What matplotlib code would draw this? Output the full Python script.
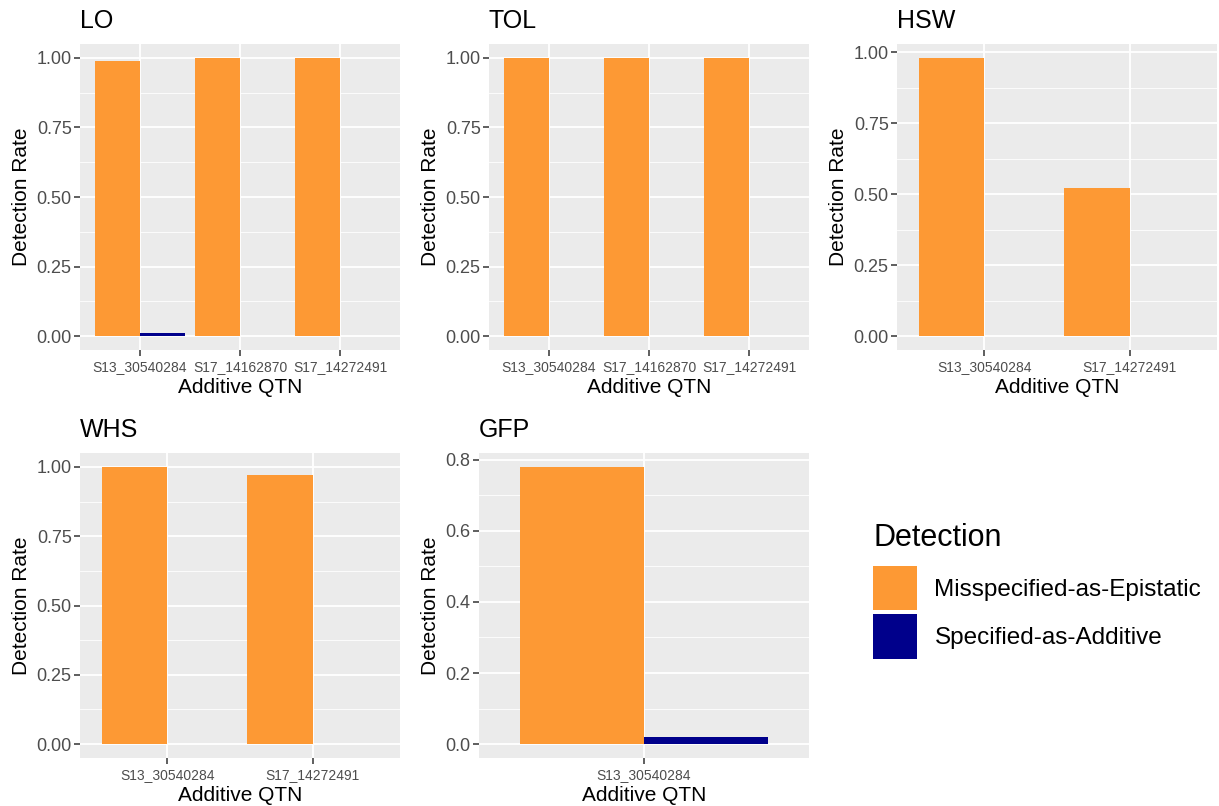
import matplotlib
matplotlib.use("Agg")
import matplotlib.pyplot as plt
from matplotlib.patches import Patch
import numpy as np

plt.rcParams['font.family'] = ['Liberation Sans', 'DejaVu Sans']

# ---- data ----
lo_cats = ["S13_30540284", "S17_14162870", "S17_14272491"]
lo_epi = [0.99, 1.00, 1.00]
lo_add = [0.01, 0.0, 0.0]

tol_cats = ["S13_30540284", "S17_14162870", "S17_14272491"]
tol_epi = [1.00, 1.00, 1.00]
tol_add = [0.0, 0.0, 0.0]

hsw_cats = ["S13_30540284", "S17_14272491"]
hsw_epi = [0.98, 0.52]
hsw_add = [0.0, 0.0]

whs_cats = ["S13_30540284", "S17_14272491"]
whs_epi = [1.00, 0.97]
whs_add = [0.0, 0.0]

gfp_cats = ["S13_30540284"]
gfp_epi = [0.78]
gfp_add = [0.02]

ticks_quarter = [0.0, 0.25, 0.50, 0.75, 1.00]
ticks_fifth = [0.0, 0.2, 0.4, 0.6, 0.8]

legend_title = "Detection"
series_labels = ["Misspecified-as-Epistatic", "Specified-as-Additive"]
ORANGE = "#FD9934"
BLUE = "#00008B"
colors = [ORANGE, BLUE]

W, H = 1219, 806
fig = plt.figure(figsize=(W / 100, H / 100), dpi=100)

def px_axes(x0, y0, x1, y1):
    return fig.add_axes([x0 / W, 1 - y1 / H, (x1 - x0) / W, (y1 - y0) / H])

panels = [
    ("LO", lo_cats, lo_epi, lo_add, ticks_quarter, "%.2f", (80, 44, 400, 350)),
    ("TOL", tol_cats, tol_epi, tol_add, ticks_quarter, "%.2f", (489, 44, 809, 350)),
    ("HSW", hsw_cats, hsw_epi, hsw_add, ticks_quarter, "%.2f", (897, 44, 1217, 350)),
    ("WHS", whs_cats, whs_epi, whs_add, ticks_quarter, "%.2f", (80, 453, 400, 758)),
    ("GFP", gfp_cats, gfp_epi, gfp_add, ticks_fifth, "%.1f", (479, 453, 809, 758)),
]

for title, cats, epi, add, yt, fmt, box in panels:
    ax = px_axes(*box)
    ax.set_facecolor("#EBEBEB")
    x = np.arange(1, len(cats) + 1)
    ax.bar(x - 0.225, epi, width=0.45, color=ORANGE, linewidth=0, zorder=3)
    ax.bar(x + 0.225, add, width=0.45, color=BLUE, linewidth=0, zorder=3)
    ax.set_xlim(0.4, len(cats) + 0.6)
    ymax = max(max(epi), max(add))
    ax.set_ylim(-0.05 * ymax, ymax * 1.05)
    ax.set_xticks(x)
    ax.set_xticklabels(cats, fontsize=10, color="#4D4D4D")
    ax.set_yticks(yt)
    ax.set_yticklabels([fmt % v for v in yt], fontsize=13, color="#4D4D4D")
    minor = [(yt[i] + yt[i + 1]) / 2 for i in range(len(yt) - 1)]
    ax.set_yticks(minor, minor=True)
    ax.tick_params(axis="y", which="minor", length=0)
    ax.tick_params(axis="both", which="major", length=4, width=1.1, color="#333333", pad=2)
    ax.tick_params(axis="x", which="major", pad=3)
    ax.grid(True, which="major", color="white", linewidth=1.3, zorder=0)
    ax.grid(True, which="minor", axis="y", color="white", linewidth=0.6, zorder=0)
    ax.set_axisbelow(True)
    for s in ax.spines.values():
        s.set_visible(False)
    ax.set_title(title, loc="left", fontsize=18, pad=11.5)
    ax.set_xlabel("Additive QTN", fontsize=15, labelpad=3)
    ax.set_ylabel("Detection Rate", fontsize=15, labelpad=4)

handles = [Patch(facecolor=c, edgecolor="none", label=l) for c, l in zip(colors, series_labels)]
fig.text(873 / W, 1 - 546 / H, legend_title, fontsize=22, ha="left", va="baseline")
leg = fig.legend(handles=handles, loc="upper left",
                 bbox_to_anchor=(873 / W, 1 - 566 / H), frameon=False, borderpad=0,
                 borderaxespad=0,
                 fontsize=17.5, handlelength=1.81, handleheight=2.43,
                 handletextpad=0.72, labelspacing=0.17, alignment="left")

fig.savefig("out.png", dpi=100)
